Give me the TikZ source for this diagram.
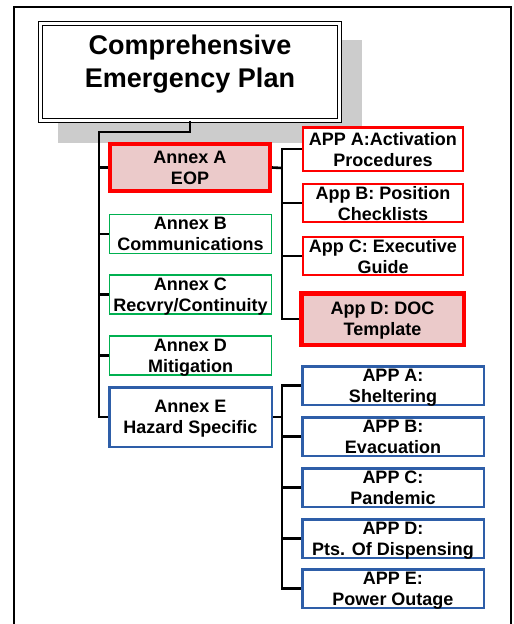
\documentclass[tikz,border=0pt]{standalone}
\usepackage{fontspec}
\setmainfont{Liberation Sans}
\definecolor{pinkfill}{RGB}{235,202,202}
\definecolor{grnline}{RGB}{0,176,80}
\definecolor{bluline}{RGB}{46,94,168}
\definecolor{shadowgray}{RGB}{204,204,204}
\begin{document}
\begin{tikzpicture}[x=1pt,y=-1pt,
  every node/.style={inner sep=0pt, align=center, text depth=0pt},
  boxtext/.style={font=\fontsize{18}{21}\selectfont\bfseries},
  redmain/.style={boxtext, draw=red, line width=4pt, fill=pinkfill, minimum width=160pt, minimum height=47pt},
  grnbox/.style={boxtext, draw=grnline, line width=1.5pt, fill=white, minimum width=162pt, minimum height=39pt},
  blumain/.style={boxtext, draw=bluline, line width=2.5pt, fill=white, minimum width=162.5pt, minimum height=59.5pt},
  redapp/.style={boxtext, draw=red, line width=2.5pt, fill=white, minimum width=160pt, minimum height=38pt},
  bluapp/.style={boxtext, draw=bluline, line width=2.5pt, fill=white, minimum width=181.5pt, minimum height=38.5pt},
  conn/.style={line width=2.6pt, black}]
\useasboundingbox (0,0) rectangle (514,624);
\fill[white] (0,0) rectangle (514,624);
% outer frame (open at bottom)
\draw[line width=2pt] (14,624) -- (14,7) -- (511,7) -- (511,624);
% shadow
\fill[shadowgray] (58,40) rectangle (362,143);
% title
\node[draw, line width=1pt, double=white, double distance=3pt, fill=white,
      minimum width=299pt, minimum height=97pt, text depth=20pt,
      font=\fontsize{27}{33}\selectfont\bfseries] (title) at (190,71.5)
      {Comprehensive\\Emergency Plan};
% annexes
\node[redmain] (annA) at (190,167.5) {Annex A\\EOP};
\node[grnbox] (annB) at (190.5,234) {Annex B\\Communications};
\node[grnbox] (annC) at (190.5,294.5) {Annex C\\Recvry/Continuity};
\node[grnbox] (annD) at (190.5,355.5) {Annex D\\Mitigation};
\node[blumain] (annE) at (190.5,417) {Annex E\\Hazard Specific};
% annex A appendices
\node[redapp, minimum height=43.5pt] (apA) at (383,149) {APP A:Activation\\Procedures};
\node[redapp] (apB) at (383,203) {App B: Position\\Checklists};
\node[redapp] (apC) at (383,256) {App C: Executive\\Guide};
\node[redmain, minimum width=162.5pt, minimum height=51.5pt, line width=4.5pt] (apD) at (382.5,319) {App D: DOC\\Template};
% annex E appendices
\node[bluapp] (heA) at (393,385.5) {APP A:\\Sheltering};
\node[bluapp] (heB) at (393,436.5) {APP B:\\Evacuation};
\node[bluapp] (heC) at (393,487.5) {APP C:\\Pandemic};
\node[bluapp] (heD) at (393,538.5) {APP D:\\Pts. Of Dispensing};
\node[bluapp] (heE) at (393,588.5) {APP E:\\Power Outage};
% connectors
\coordinate (t1) at (99,132);
\coordinate (ja) at (282,168);
\coordinate (je) at (282,417);
\draw[conn] (title.south) |- (t1) |- (annE.west);
\foreach \n in {annA,annB,annC,annD} \draw[conn] (t1 |- \n.west) -- (\n.west);
\draw[conn] (annA.east) -- (ja);
\draw[conn] (apA.west) -| (ja) |- (apD.west);
\foreach \n in {apB,apC} \draw[conn] (ja |- \n.west) -- (\n.west);
\draw[conn] (annE.east) -- (je);
\draw[conn] (heA.west) -| (je) |- (heE.west);
\foreach \n in {heB,heC,heD} \draw[conn] (je |- \n.west) -- (\n.west);
\end{tikzpicture}
\end{document}
